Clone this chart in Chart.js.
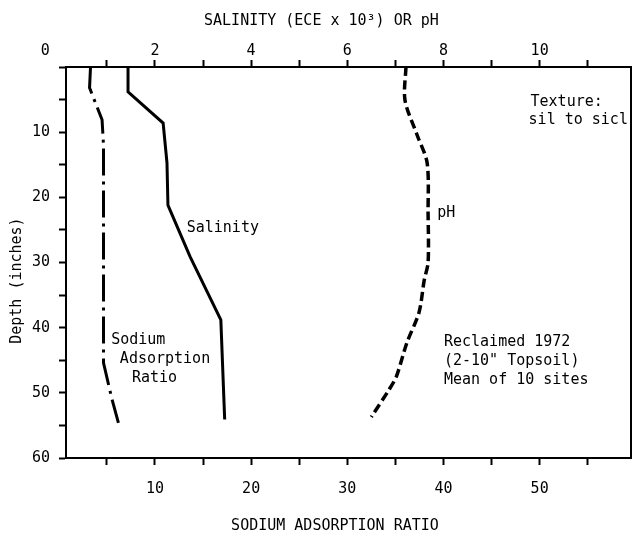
<!DOCTYPE html>
<html>
<head>
<meta charset="utf-8">
<script src="https://cdn.jsdelivr.net/npm/chart.js@4"></script>
<style>
  body { margin: 0; background: #fff; }
  #wrap { width: 634px; height: 534px; }
</style>
</head>
<body>
<div id="wrap"><canvas id="soilChart" width="634" height="534"></canvas></div>
<script>
// depth profiles (depth in inches)
var salinityDepth = [0, 3.8, 8.6, 14.7, 21.2, 29.1, 38.8, 54.1];
var salinityValues = [1.44, 1.44, 2.17, 2.25, 2.27, 2.73, 3.37, 3.45];

var sarDepth = [0, 3.2, 8.1, 12, 45.4, 50.8, 54.6];
var sarValues = [3.3, 3.2, 4.5, 4.65, 4.65, 5.5, 6.2];

var phDepth = [0, 5.1, 10.4, 14.7, 22.4, 30, 32.7, 37.7, 42.3, 47.5, 49.5, 53.7];
var phValues = [7.22, 7.2, 7.45, 7.66, 7.68, 7.68, 7.6, 7.49, 7.24, 7.02, 6.87, 6.5];

// axis ticks
var topTicks = [0, 1, 2, 3, 4, 5, 6, 7, 8, 9, 10, 11];
var topLabels = [0, 2, 4, 6, 8, 10];
var sarTicks = [5, 10, 15, 20, 25, 30, 35, 40, 45, 50, 55];
var sarLabels = [10, 20, 30, 40, 50];
var depthTicks = [0, 5, 10, 15, 20, 25, 30, 35, 40, 45, 50, 55, 60];
var depthLabels = [10, 20, 30, 40, 50, 60];

// text notes: text, salinity-axis value, depth
var noteText = ['Texture:', 'sil to sicl', 'Salinity', 'pH', 'Sodium', 'Adsorption', 'Ratio',
                'Reclaimed 1972', '(2-10" Topsoil)', 'Mean of 10 sites'];
var noteX = [9.81, 9.77, 2.66, 7.87, 1.09, 1.27, 1.52, 8.01, 8.01, 8.01];
var noteDepth = [5.4, 8.1, 24.7, 22.4, 41.9, 44.8, 47.7, 42.2, 45.1, 48];

var fam = "'DejaVu Sans Mono', monospace";
var tickFont = { family: fam, size: 15 };

function toPoints(xs, ys) {
    var pts = [];
    for (var i = 0; i < xs.length; i++) {
        pts.push({ x: xs[i], y: ys[i] });
    }
    return pts;
}

function setTicks(list) {
    return function(scale) {
        scale.ticks = list.map(function(v) { return { value: v }; });
    };
}

function labelIf(list) {
    return function(v) {
        if (!list.includes(v)) return '';
        // the zero sits a bit left in the original
        return v === 0 ? '0   ' : String(v);
    };
}

var notesPlugin = {
    id: 'notes',
    afterDatasetsDraw: function(chart) {
        var c = chart.ctx;
        var xs = chart.scales.xTop;
        var ys = chart.scales.y;
        c.save();
        c.fillStyle = '#000';
        c.font = '15px ' + fam;
        c.textAlign = 'left';
        c.textBaseline = 'middle';
        for (var i = 0; i < noteText.length; i++) {
            c.fillText(noteText[i], xs.getPixelForValue(noteX[i]), ys.getPixelForValue(noteDepth[i]));
        }
        c.restore();
    }
};

new Chart(document.getElementById('soilChart'), {
    type: 'scatter',
    data: {
        datasets: [{
            label: 'Salinity',
            data: toPoints(salinityValues, salinityDepth),
            xAxisID: 'xTop',
            borderColor: '#000',
            borderWidth: 3,
            showLine: true,
            pointRadius: 0,
            tension: 0
        }, {
            label: 'pH',
            data: toPoints(phValues, phDepth),
            xAxisID: 'xTop',
            borderColor: '#000',
            borderWidth: 3.5,
            borderDash: [9, 4.5],
            showLine: true,
            pointRadius: 0,
            tension: 0.3
        }, {
            label: 'Sodium Adsorption Ratio',
            data: toPoints(sarValues, sarDepth),
            xAxisID: 'xBottom',
            borderColor: '#000',
            borderWidth: 3,
            borderDash: [27, 6, 3, 6],
            showLine: true,
            pointRadius: 0,
            tension: 0
        }]
    },
    options: {
        responsive: false,
        animation: false,
        devicePixelRatio: 1,
        layout: { padding: 0 },
        plugins: {
            legend: { display: false },
            tooltip: { enabled: false }
        },
        scales: {
            xTop: {
                type: 'linear',
                position: 'top',
                min: 0.15,
                max: 11.9,
                afterBuildTicks: setTicks(topTicks),
                afterFit: function(s) { s.height = 67; },
                grid: {
                    drawOnChartArea: false,
                    tickLength: 7,
                    tickWidth: 2,
                    tickColor: function(ctx) {
                        return ctx.tick && ctx.tick.value === 0 ? 'rgba(0,0,0,0)' : '#000';
                    }
                },
                border: { color: '#000', width: 2 },
                ticks: { autoSkip: false, maxRotation: 0, padding: 0, color: '#000', font: tickFont,
                         callback: labelIf(topLabels) },
                // trailing spaces pull the centred title left, as in the original
                title: { display: true, text: 'SALINITY (ECE x 10³) OR pH      ', color: '#000',
                         padding: { top: 13.5, bottom: 0 }, font: { family: fam, size: 15, lineHeight: 1 } }
            },
            xBottom: {
                type: 'linear',
                position: 'bottom',
                min: 0.75,
                max: 59.5,
                afterBuildTicks: setTicks(sarTicks),
                afterFit: function(s) { s.height = 76; },
                grid: { drawOnChartArea: false, tickLength: 7, tickWidth: 2, tickColor: '#000' },
                border: { color: '#000', width: 2 },
                ticks: { autoSkip: false, maxRotation: 0, padding: 15, color: '#000', font: tickFont,
                         callback: labelIf(sarLabels) },
                title: { display: true, text: 'SODIUM ADSORPTION RATIO   ', color: '#000',
                         padding: { top: 0, bottom: 0 }, font: { family: fam, size: 15, lineHeight: 1 } }
            },
            y: {
                type: 'linear',
                position: 'left',
                reverse: true,
                min: 0,
                max: 60,
                afterBuildTicks: setTicks(depthTicks),
                afterFit: function(s) { s.width = 66; },
                grid: { drawOnChartArea: false, tickLength: 7, tickWidth: 2, tickColor: '#000' },
                border: { color: '#000', width: 2 },
                ticks: { autoSkip: false, padding: 9, color: '#000', font: tickFont,
                         callback: labelIf(depthLabels) },
                title: { display: true, text: 'Depth (inches)    ', color: '#000',
                         padding: { top: 9.5, bottom: 0 }, font: { family: fam, size: 15, lineHeight: 1 } }
            },
            yRight: {
                type: 'linear',
                position: 'right',
                reverse: true,
                min: 0,
                max: 60,
                afterFit: function(s) { s.width = 3; },
                grid: { drawOnChartArea: false, drawTicks: false },
                border: { color: '#000', width: 2 },
                ticks: { display: false }
            }
        }
    },
    plugins: [notesPlugin]
});
</script>
</body>
</html>
